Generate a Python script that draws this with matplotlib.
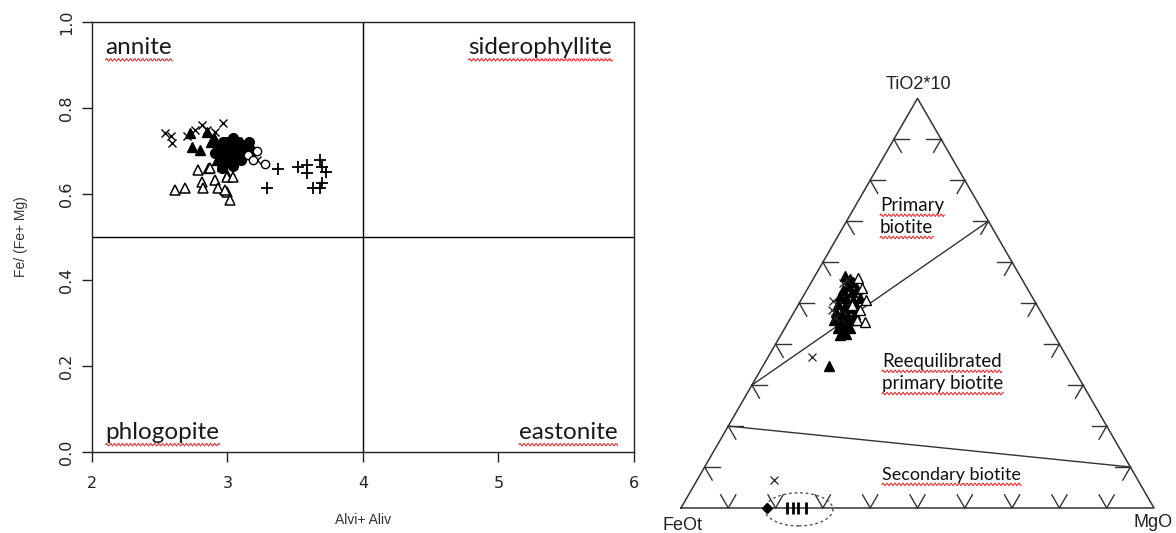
import matplotlib.pyplot as plt
import numpy as np
from matplotlib.patches import Ellipse

# ---------------- left panel: Fe/(Fe+Mg) vs Alvi+Aliv ----------------
cross_al = [2.54, 2.59, 2.58, 2.76, 2.81, 2.85, 2.91, 2.97, 3.22, 2.70]
cross_fe = [0.742, 0.719, 0.735, 0.750, 0.760, 0.750, 0.744, 0.765, 0.680, 0.735]

tri_fill_al = [2.72, 2.74, 2.80, 2.85, 2.88, 2.90, 2.95, 3.00, 3.03, 3.08, 2.92, 2.98, 3.10,
               3.00, 2.86, 2.96, 3.06, 3.12, 2.94, 3.02]
tri_fill_fe = [0.742, 0.709, 0.702, 0.745, 0.720, 0.730, 0.690, 0.675, 0.710, 0.700, 0.680,
               0.715, 0.720, 0.645, 0.660, 0.665, 0.690, 0.715, 0.700, 0.725]

dot_al = [2.95, 3.00, 3.05, 3.10, 2.98, 3.02, 3.08, 3.12, 2.93, 3.00, 3.06, 3.04, 2.97, 3.14,
          3.18, 3.10, 2.96, 3.04, 3.16, 2.91]
dot_fe = [0.700, 0.720, 0.710, 0.700, 0.680, 0.690, 0.720, 0.690, 0.710, 0.700, 0.680, 0.730,
          0.720, 0.710, 0.700, 0.680, 0.660, 0.665, 0.720, 0.695]

ring_al = [3.22, 3.28, 3.15, 3.19]
ring_fe = [0.700, 0.670, 0.690, 0.680]

tri_open_al = [2.61, 2.69, 2.78, 2.87, 2.81, 2.91, 3.00, 2.82, 2.93, 3.00, 3.02, 2.98, 3.04]
tri_open_fe = [0.609, 0.614, 0.656, 0.660, 0.628, 0.633, 0.640, 0.614, 0.614, 0.605, 0.586,
               0.609, 0.640]

plus_al = [3.37, 3.29, 3.52, 3.59, 3.59, 3.68, 3.70, 3.73, 3.63, 3.70, 3.68]
plus_fe = [0.658, 0.614, 0.663, 0.667, 0.649, 0.679, 0.663, 0.651, 0.614, 0.626, 0.614]

field_names = ['annite', 'siderophyllite', 'phlogopite', 'eastonite']

# ---------------- right panel: FeOt - TiO2*10 - MgO ternary ----------------
# fractions of TiO2*10 and MgO (FeOt = 1 - TiO2 - MgO)
t_tri_fill_ti = [0.566, 0.559, 0.552, 0.542, 0.532, 0.527, 0.535, 0.518, 0.513, 0.508, 0.498,
                 0.493, 0.488, 0.479, 0.474, 0.469, 0.474, 0.459, 0.454, 0.449, 0.459, 0.439,
                 0.435, 0.439, 0.425, 0.422, 0.493, 0.513, 0.347]
t_tri_fill_mg = [0.064, 0.078, 0.088, 0.082, 0.076, 0.098, 0.105, 0.077, 0.093, 0.110, 0.083,
                 0.100, 0.113, 0.088, 0.103, 0.119, 0.131, 0.094, 0.109, 0.124, 0.132, 0.113,
                 0.127, 0.138, 0.137, 0.125, 0.124, 0.122, 0.140]

t_cross_ti = [0.557, 0.483, 0.549, 0.464, 0.369, 0.068, 0.505]
t_cross_mg = [0.072, 0.078, 0.068, 0.094, 0.093, 0.163, 0.068]

t_tri_open_ti = [0.537, 0.496, 0.483, 0.459, 0.454, 0.562, 0.508]
t_tri_open_mg = [0.114, 0.114, 0.137, 0.143, 0.162, 0.093, 0.137]

t_diamond_ti = [0.0]
t_diamond_mg = [0.182]

t_bar_ti = [0.0, 0.0, 0.0, 0.0]
t_bar_mg = [0.224, 0.237, 0.247, 0.264]

# field boundaries: (TiO2 on FeOt-TiO2 side) -> (TiO2 on MgO-TiO2 side)
bound_left_ti = [0.3, 0.2]
bound_right_ti = [0.7, 0.1]

tick_fracs = [0.1, 0.2, 0.3, 0.4, 0.5, 0.6, 0.7, 0.8, 0.9]


def tern_xy(ti, mg):
    ti = np.asarray(ti, dtype=float)
    mg = np.asarray(mg, dtype=float)
    return mg + ti / 2.0, ti * np.sqrt(3) / 2.0


def squiggle(fig, txt, renderer):
    # red spell-check style wavy underline below a text label
    bb = txt.get_window_extent(renderer)
    xs = np.linspace(bb.x0, bb.x1, int(bb.width) + 1)
    ys = bb.y0 - 1.5 + 1.3 * np.sin((xs - bb.x0) * 2 * np.pi / 4.0)
    fig.add_artist(plt.Line2D(xs / fig.bbox.width, ys / fig.bbox.height,
                              color='#e03030', lw=0.8, transform=fig.transFigure))


fig = plt.figure(figsize=(11.76, 5.33), dpi=100)

# ---- left panel ----
ax = fig.add_axes([0.0782, 0.152, 0.4609, 0.8067])
ms = 7
ax.plot(cross_al, cross_fe, 'x', color='black', ms=ms - 1, mew=1.0, ls='none')
ax.plot(tri_fill_al, tri_fill_fe, '^', color='black', ms=ms, ls='none')
ax.plot(dot_al, dot_fe, 'o', color='black', ms=ms, ls='none')
ax.plot(ring_al, ring_fe, 'o', mfc='white', mec='black', ms=ms - 1, mew=1.0, ls='none')
ax.plot(tri_open_al, tri_open_fe, '^', mfc='white', mec='black', ms=ms, mew=1.1, ls='none')
ax.plot(plus_al, plus_fe, '+', color='black', ms=ms + 2, mew=1.3, ls='none')
ax.axvline(4, color='black', lw=1.0)
ax.axhline(0.5, color='black', lw=1.0)
ax.set_xlim(2, 6)
ax.set_ylim(0, 1)
ax.set_xticks([2, 3, 4, 5, 6])
ax.set_yticks([0.0, 0.2, 0.4, 0.6, 0.8, 1.0])
ax.set_yticklabels(['0.0', '0.2', '0.4', '0.6', '0.8', '1.0'], rotation=90, va='center')
ax.tick_params(direction='out', length=7, width=1.0, labelsize=11.5, colors='#222222', pad=10)
ax.tick_params(axis='y', pad=6)
for sp in ax.spines.values():
    sp.set_linewidth(1.0)
    sp.set_color('#222222')
lab_font = dict(family='Lato', fontsize=17.5, color='#1a1a1a')
labels = [
    ax.text(2.1, 0.94, field_names[0], ha='left', va='center', **lab_font),
    ax.text(5.84, 0.94, field_names[1], ha='right', va='center', **lab_font),
    ax.text(2.1, 0.045, field_names[2], ha='left', va='center', **lab_font),
    ax.text(5.88, 0.045, field_names[3], ha='right', va='center', **lab_font),
]
ax.set_xlabel('Alvi+ Aliv', fontsize=10, color='#333333', family='Liberation Sans', labelpad=16)
ax.set_ylabel('Fe/ (Fe+ Mg)', fontsize=10, color='#333333', family='Liberation Sans',
              labelpad=22)

# ---- right panel: ternary ----
tx = fig.add_axes([0.5612, 0.0, 0.4388, 0.8874])
tx.set_xlim(-0.0444, 1.0465)
tx.set_ylim(-0.0529, 0.947)
tx.axis('off')

h = np.sqrt(3) / 2
lc = '#333333'
tx.plot([0, 1, 0.5, 0], [0, 0, h, 0], color=lc, lw=1.1, clip_on=False)

L = 0.032
for f in tick_fracs:
    # left side (FeOt -> TiO2)
    px, py = 0.5 * f, h * f
    tx.plot([px, px + L], [py, py], color=lc, lw=1.0)
    tx.plot([px, px + 0.5 * L], [py, py - h * L], color=lc, lw=1.0)
    # right side (MgO -> TiO2)
    px, py = 1 - 0.5 * f, h * f
    tx.plot([px, px - L], [py, py], color=lc, lw=1.0)
    tx.plot([px, px - 0.5 * L], [py, py - h * L], color=lc, lw=1.0)
    # bottom (FeOt -> MgO)
    px, py = f, 0
    tx.plot([px, px - 0.5 * L], [py, py + h * L], color=lc, lw=1.0)
    tx.plot([px, px + 0.5 * L], [py, py + h * L], color=lc, lw=1.0)

for lt, rt in zip(bound_left_ti, bound_right_ti):
    x0, y0 = tern_xy(lt, 0.0)
    x1, y1 = tern_xy(rt, 1.0 - rt)
    tx.plot([x0, x1], [y0, y1], color=lc, lw=1.0)

tms = 7
x, y = tern_xy(t_tri_fill_ti, t_tri_fill_mg)
tx.plot(x, y, '^', color='black', ms=tms, ls='none')
x, y = tern_xy(t_tri_open_ti, t_tri_open_mg)
tx.plot(x, y, '^', mfc='white', mec='black', ms=tms, mew=1.0, ls='none')
x, y = tern_xy(t_cross_ti, t_cross_mg)
tx.plot(x, y, 'x', color='#222222', ms=tms - 1, mew=0.9, ls='none')
x, y = tern_xy(t_diamond_ti, t_diamond_mg)
tx.plot(x, y, 'D', color='black', ms=5, ls='none', clip_on=False)
x, y = tern_xy(t_bar_ti, t_bar_mg)
tx.plot(x, y, '|', color='black', ms=9, mew=2.0, ls='none', clip_on=False)

tx.add_patch(Ellipse((0.249, -0.003), 0.144, 0.070, fill=False, ls=(0, (2, 2)),
                     ec='#555555', lw=1.0))

corner_font = dict(family='Liberation Sans', fontsize=13, color='#222222')
tx.text(0.501, 0.895, 'TiO2*10', ha='center', va='center', **corner_font)
tx.text(0.004, -0.036, 'FeOt', ha='center', va='center', clip_on=False, **corner_font)
tx.text(0.998, -0.030, 'MgO', ha='center', va='center', clip_on=False, **corner_font)

field_font = dict(family='Lato', fontsize=13.5, color='#111111')
labels.append(tx.text(0.421, 0.640, 'Primary', ha='left', va='center', **field_font))
labels.append(tx.text(0.421, 0.593, 'biotite', ha='left', va='center', **field_font))
labels.append(tx.text(0.425, 0.310, 'Reequilibrated', ha='left', va='center', **field_font))
labels.append(tx.text(0.425, 0.263, 'primary biotite', ha='left', va='center', **field_font))
labels.append(tx.text(0.425, 0.070, 'Secondary biotite', ha='left', va='center',
                      family='Lato', fontsize=13, color='#111111'))

fig.canvas.draw()
renderer = fig.canvas.get_renderer()
for t in labels:
    squiggle(fig, t, renderer)

fig.savefig('out.png', dpi=100)
